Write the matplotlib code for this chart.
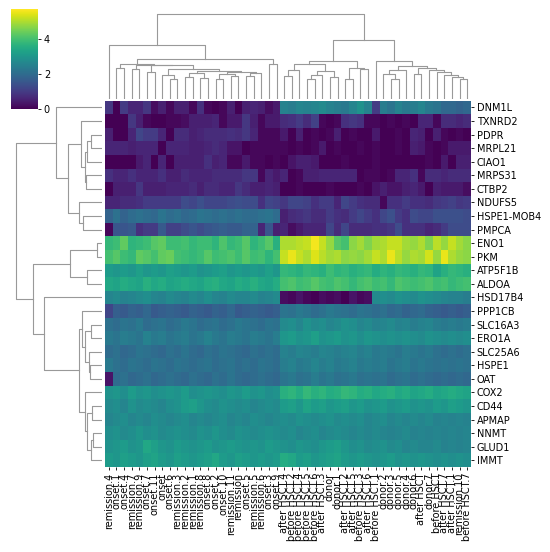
import numpy as np
import matplotlib
matplotlib.use("Agg")
import matplotlib.pyplot as plt

genes = ["DNM1L", "TXNRD2", "PDPR", "MRPL21", "CIAO1", "MRPS31", "CTBP2", "NDUFS5",
         "HSPE1-MOB4", "PMPCA", "ENO1", "PKM", "ATP5F1B", "ALDOA", "HSD17B4", "PPP1CB",
         "SLC16A3", "ERO1A", "SLC25A6", "HSPE1", "OAT", "COX2", "CD44", "APMAP", "NNMT",
         "GLUD1", "IMMT"]

samples = ["remission.4", "onset.1", "onset.4", "remission.7", "remission.9", "onset.7",
           "onset.11", "onset", "onset.6", "remission.3", "remission.2", "remission.1",
           "remission.8", "onset.8", "onset.2", "onset.10", "remission.11", "remission",
           "onset.5", "remission.5", "remission.6", "onset.3", "onset.9",
           "after HSCT.4", "before HSCT.2", "before HSCT.4", "before HSCT.5", "before HSCT.6",
           "after HSCT.3", "donor", "donor.1", "after HSCT.2", "after HSCT.5", "before HSCT.3",
           "after HSCT.6", "before HSCT.1", "donor.2", "donor.3", "donor.5", "donor.4",
           "donor.6", "after HSCT", "donor.7", "before HSCT", "after HSCT.7", "after HSCT.1",
           "remission.10", "before HSCT.7"]

# expression per gene, columns in the order of `samples`
dnm1l = [0.9,0.0,1.0,0.6,0.6,0.9,0.2,0.5,0.1,0.5,0.5,0.1,0.8,0.1,0.0,0.1,0.5,0.0,0.5,0.6,0.5,0.2,0.4,
         2.5,2.4,2.6,2.5,2.6,2.7,2.5,2.4,2.3,2.6,2.9,2.5,1.0,2.4,2.2,2.5,2.3,2.4,2.6,2.3,2.2,1.9,1.9,1.8,1.9]
txnrd2 = [0.0,0.0,0.0,0.9,0.5,0.1,0.0,0.0,0.1,0.1,0.2,0.5,0.5,0.5,0.6,0.1,0.4,0.4,0.9,0.5,0.1,0.4,0.4,
          0.7,0.8,1.0,0.7,1.1,0.1,0.0,0.1,0.8,0.9,0.8,0.1,0.1,0.0,0.1,0.0,0.1,0.0,0.6,0.6,0.1,0.7,0.7,0.6,0.7]
pdpr = [0.5,0.0,0.0,0.6,1.2,1.0,1.0,0.6,0.0,0.7,0.7,0.5,0.6,0.7,0.7,0.7,0.8,0.7,0.9,0.6,0.1,0.1,0.1,
        0.4,0.0,0.5,0.0,0.1,0.0,0.1,0.5,0.0,0.1,0.0,0.0,0.4,0.0,0.0,0.1,0.0,0.6,0.5,0.0,0.5,0.1,0.0,0.1,0.0]
mrpl21 = [0.6,0.6,0.6,0.5,0.6,0.6,0.6,0.0,0.6,0.6,0.6,0.5,0.5,0.6,0.7,0.6,0.3,0.3,0.0,0.1,0.1,0.1,0.1,
          0.1,0.0,0.1,0.0,0.1,0.4,0.0,0.1,0.0,0.0,0.1,0.0,0.1,0.0,0.0,0.1,0.0,0.5,0.4,0.1,0.0,0.1,0.4,0.4,0.4]
ciao1 = [0.0,0.0,0.0,0.0,0.4,0.6,0.0,0.6,0.0,0.5,0.5,0.5,0.5,0.8,0.5,0.6,0.1,0.1,0.4,0.1,0.1,0.0,0.1,
         0.0,0.3,0.5,0.5,0.4,0.0,0.0,0.0,0.1,0.0,0.0,0.0,0.1,0.0,0.0,0.0,0.0,0.0,0.0,0.1,0.0,0.4,0.0,0.5,0.5]
mrps31 = [0.8,0.6,0.6,0.8,0.6,0.6,0.6,0.8,0.5,0.5,0.7,0.6,0.6,0.6,0.7,0.7,0.7,0.7,0.9,0.9,0.1,0.6,0.4,
          0.6,0.0,0.1,0.5,0.5,0.6,0.6,0.6,0.6,0.6,0.0,0.1,0.1,0.0,0.1,0.6,0.6,0.8,0.1,0.7,0.7,0.6,0.7,0.7,0.7]
ctbp2 = [0.0,0.5,0.5,0.5,0.9,0.5,0.5,0.5,0.6,0.6,0.6,0.7,0.5,0.7,0.7,0.6,0.6,0.9,0.7,0.5,0.5,0.6,0.5,
         0.0,0.0,0.1,0.0,0.0,0.0,0.1,0.0,0.0,0.0,0.1,0.0,0.3,0.5,0.3,0.3,0.5,0.6,0.4,0.0,0.5,0.4,0.4,0.4,0.2]
ndufs5 = [0.6,0.6,0.7,0.7,0.8,1.0,1.0,1.0,1.0,1.0,1.3,1.2,1.4,1.2,1.2,1.2,1.3,1.4,1.3,1.3,0.8,1.2,1.1,
          0.9,1.2,1.2,1.1,0.8,1.0,1.0,0.6,1.2,1.0,0.8,0.7,0.7,0.1,0.8,0.8,1.0,0.8,0.8,0.7,0.9,1.0,1.1,0.9,1.0]
hspe1_mob4 = [1.8,2.1,1.8,2.0,2.1,2.0,1.9,2.2,2.0,2.1,1.9,2.0,2.2,2.1,2.0,2.1,2.0,2.1,2.0,2.0,2.1,2.2,2.0,
              0.5,0.7,0.8,0.9,0.7,0.7,1.0,0.8,0.7,1.0,1.2,1.0,0.8,1.2,1.4,1.0,0.8,1.3,1.2,1.2,1.4,1.4,1.4,1.4,1.3]
pmpca = [0.1,1.5,1.5,1.6,0.8,1.0,1.0,1.6,1.1,1.1,1.3,1.5,1.3,1.5,1.6,1.7,1.6,1.6,1.8,1.8,0.6,1.5,0.5,
         0.6,0.2,0.4,0.6,0.6,0.6,1.2,0.7,1.2,0.7,0.7,0.7,0.8,0.8,0.9,1.3,0.8,0.8,0.8,0.6,0.7,1.0,1.3,1.3,1.3]
eno1 = [3.8,3.9,4.3,3.7,3.8,3.9,4.2,4.3,3.9,3.9,4.0,3.8,3.9,3.9,3.7,4.1,3.8,3.9,4.2,3.7,3.9,4.2,3.6,
        5.0,5.0,5.1,5.2,5.6,5.2,4.8,4.2,4.0,4.7,4.9,4.6,4.9,5.0,5.2,5.2,4.9,4.8,5.0,4.6,5.1,4.8,5.2,4.9,4.7]
pkm = [4.0,4.2,3.9,3.8,4.3,4.2,4.0,4.3,4.4,4.0,3.9,3.8,3.9,4.2,3.9,4.0,4.1,3.9,4.2,3.9,4.0,3.7,4.0,
       5.2,5.5,5.2,5.0,5.4,5.1,4.9,5.0,4.7,4.8,4.7,4.9,5.2,5.0,5.5,5.1,4.8,5.0,4.9,5.3,4.8,5.5,5.0,4.8,4.7]
atp5f1b = [3.1,3.0,3.1,3.0,3.2,3.0,3.1,3.0,3.2,3.1,3.0,3.1,2.9,3.0,3.1,3.2,3.0,3.1,3.0,3.1,3.0,3.2,3.0,
           3.8,3.7,3.6,3.8,3.7,3.6,3.9,3.7,3.8,3.6,3.7,3.8,3.5,3.7,3.6,3.8,3.7,3.6,3.8,3.7,3.3,3.6,3.8,3.7,3.6]
aldoa = [3.4,3.3,3.5,3.4,3.3,3.6,3.4,3.5,3.3,3.4,3.5,3.4,3.3,3.5,3.6,3.4,3.3,3.5,3.4,3.6,3.4,3.3,3.5,
         4.0,4.1,3.9,4.0,4.2,4.0,3.9,4.1,4.0,3.8,4.0,4.1,3.9,4.0,3.8,4.1,4.0,3.9,4.0,4.1,3.9,4.0,3.8,3.9,4.0]
hsd17b4 = [2.6,2.7,2.5,2.6,2.7,2.8,2.6,2.5,2.7,2.6,2.5,2.7,2.6,2.8,2.6,2.5,2.7,2.6,2.6,2.7,2.5,2.6,2.7,
           0.2,0.1,0.3,0.1,0.0,0.2,0.1,0.2,0.0,0.3,0.1,0.2,2.7,2.8,2.7,2.9,2.8,2.7,2.9,2.8,2.7,2.6,2.5,2.5,2.4]
ppp1cb = [1.2,1.7,1.6,1.8,1.7,1.9,1.6,1.7,1.8,1.7,1.6,1.8,1.7,1.6,1.8,1.7,1.9,1.6,1.7,1.8,1.7,1.6,1.7,
          2.2,2.1,2.3,2.2,2.0,2.1,2.3,2.2,2.1,2.0,2.2,2.1,2.0,2.1,1.9,2.0,1.8,1.9,2.0,1.8,1.7,1.6,1.7,1.6,1.7]
slc16a3 = [2.1,2.0,2.2,2.1,2.3,2.0,2.1,2.2,2.0,2.1,2.3,2.2,2.0,2.1,2.2,2.0,2.1,2.3,2.2,2.1,2.0,2.2,2.1,
           2.7,2.8,2.6,2.9,2.7,2.8,2.6,2.7,2.9,2.8,2.6,2.7,2.5,2.6,2.7,2.5,2.6,2.4,2.5,2.6,2.4,2.3,2.4,2.3,2.4]
ero1a = [2.3,2.2,2.4,2.3,2.2,2.5,2.3,2.4,2.2,2.3,2.4,2.2,2.3,2.5,2.3,2.2,2.4,2.3,2.2,2.4,2.3,2.2,2.4,
         3.0,3.1,2.9,3.0,3.2,2.9,3.0,3.1,2.9,3.0,2.8,3.0,2.9,2.8,2.9,2.8,2.9,2.8,2.7,2.9,2.8,2.7,2.8,2.7,2.8]
slc25a6 = [2.0,2.1,1.9,2.0,2.2,2.1,2.0,1.9,2.1,2.0,2.2,2.0,1.9,2.1,2.0,2.2,2.1,2.0,1.9,2.1,2.0,2.1,2.0,
           2.5,2.4,2.6,2.5,2.4,2.6,2.5,2.4,2.5,2.6,2.4,2.5,2.3,2.4,2.3,2.2,2.4,2.3,2.2,2.3,2.1,2.0,2.1,2.0,2.1]
hspe1 = [2.3,2.1,2.0,2.2,2.1,2.0,2.2,2.1,2.0,2.2,2.1,2.0,2.1,2.2,2.0,2.1,2.2,2.0,2.1,2.0,2.2,2.1,2.0,
         2.4,2.5,2.3,2.4,2.6,2.4,2.5,2.3,2.4,2.5,2.3,2.4,2.3,2.4,2.2,2.3,2.4,2.2,2.3,2.2,2.1,2.2,2.1,2.2,2.1]
oat = [0.3,2.0,2.1,1.9,2.0,2.1,1.9,2.0,2.1,2.0,1.9,2.1,2.0,1.9,2.1,2.0,2.2,2.0,1.9,2.0,2.1,2.0,1.9,
       2.2,2.3,2.1,2.2,2.4,2.2,2.3,2.1,2.2,2.3,2.1,2.2,2.1,2.2,2.0,2.1,2.2,2.0,2.1,2.0,1.9,2.0,1.9,2.0,1.9]
cox2 = [2.9,3.0,2.8,3.1,2.9,3.0,2.8,2.9,3.0,2.9,3.1,2.8,2.9,3.0,2.9,2.8,3.0,2.9,3.1,2.9,3.0,2.8,2.9,
        3.6,3.7,3.5,3.8,3.6,3.7,3.5,3.6,3.8,3.7,3.5,3.6,3.4,3.5,3.6,3.4,3.5,3.3,3.4,3.5,3.3,3.4,3.5,3.4,3.3]
cd44 = [2.7,2.8,2.6,2.9,2.7,2.8,2.7,2.6,2.8,2.9,3.1,3.2,3.0,2.8,2.7,2.9,2.8,2.7,2.8,2.6,2.7,2.8,2.7,
        3.1,3.2,3.0,3.3,3.1,3.2,3.0,3.1,3.2,3.0,3.1,2.9,3.0,3.1,2.9,3.0,3.1,2.9,3.0,2.9,3.1,3.0,3.2,3.1,3.0]
apmap = [2.6,2.7,2.8,2.6,2.7,2.6,2.8,2.7,2.6,2.7,2.8,2.6,2.7,2.6,2.7,2.8,2.6,2.7,2.6,2.8,2.7,2.6,2.7,
         2.8,2.7,2.9,2.8,2.7,2.8,2.9,2.7,2.8,2.7,2.8,2.6,2.7,2.8,2.6,2.7,2.6,2.7,2.6,2.7,2.5,2.6,2.5,2.6,2.5]
nnmt = [2.8,2.9,2.7,2.8,3.0,2.8,2.9,2.7,2.8,2.9,2.8,2.7,2.9,2.8,3.0,2.8,2.7,2.9,2.8,2.7,2.8,2.9,2.8,
        2.7,2.8,2.6,2.7,2.8,2.6,2.7,2.8,2.7,2.6,2.7,2.6,2.7,2.6,2.5,2.6,2.7,2.5,2.6,2.5,2.6,2.5,2.6,2.5,2.6]
glud1 = [2.9,3.0,3.1,2.9,3.0,3.4,3.2,3.0,2.9,3.1,3.0,2.9,3.0,3.1,2.9,3.0,3.1,3.0,2.9,3.0,2.9,3.1,3.0,
         2.9,2.8,3.0,2.9,2.8,3.0,3.1,3.2,3.0,2.8,2.9,2.7,2.8,2.9,2.7,2.8,2.6,2.7,2.6,2.6,2.7,2.5,2.6,2.5,2.6]
immt = [3.1,3.0,3.2,3.1,3.0,3.2,3.3,3.1,3.0,3.2,3.1,3.0,3.1,3.2,3.4,3.1,3.0,3.2,3.1,3.0,3.1,3.0,3.1,
        3.5,3.4,3.1,3.2,3.0,3.1,3.2,3.3,3.1,3.0,3.1,3.0,2.9,3.0,3.1,2.9,3.0,2.9,3.0,2.9,2.8,2.9,2.8,2.9,2.8]

# dendrogram merges (child a, child b, height); leaves are in display order,
# new clusters get ids n, n+1, ... like a scipy linkage
row_merges = [
    (2, 3, 11), (27, 4, 14.4), (5, 6, 15.7), (28, 29, 16.7), (1, 30, 20.7),
    (8, 9, 19), (7, 32, 22.4), (31, 33, 33.4), (0, 34, 45.7),
    (10, 11, 5), (12, 13, 14.4), (36, 37, 31.7),
    (16, 17, 11), (19, 20, 11.5), (18, 40, 13), (39, 41, 17), (15, 42, 19.5),
    (22, 23, 10), (24, 25, 9), (45, 26, 11), (44, 46, 15), (21, 47, 17),
    (43, 48, 23), (14, 49, 57.4), (38, 50, 68.4), (35, 51, 86),
]
col_merges = [
    (1, 2, 31.7), (3, 4, 30.5), (5, 6, 27.3), (8, 9, 20), (7, 51, 24),
    (10, 11, 22), (12, 13, 21), (53, 54, 26), (14, 15, 20), (16, 17, 23),
    (56, 57, 25), (18, 19, 23.5), (59, 20, 26), (58, 60, 27.5), (55, 61, 28.5),
    (52, 62, 30), (50, 63, 34), (49, 64, 34.7), (48, 65, 35.2), (21, 22, 35),
    (66, 67, 40.7), (0, 68, 55),
    (23, 24, 23), (70, 25, 29), (26, 27, 20), (72, 28, 24), (29, 30, 22),
    (73, 74, 28.5), (71, 75, 35), (31, 32, 20), (33, 34, 30), (77, 78, 31.7),
    (76, 79, 38.3), (37, 38, 20), (36, 81, 25), (82, 39, 29.3), (46, 47, 20.5),
    (45, 84, 22.5), (44, 85, 24.5), (43, 86, 27), (42, 87, 29), (40, 41, 25),
    (89, 88, 31), (83, 90, 33.3), (35, 91, 38.3), (80, 92, 60), (69, 93, 86),
]

data = np.array([dnm1l, txnrd2, pdpr, mrpl21, ciao1, mrps31, ctbp2, ndufs5, hspe1_mob4,
                 pmpca, eno1, pkm, atp5f1b, aldoa, hsd17b4, ppp1cb, slc16a3, ero1a,
                 slc25a6, hspe1, oat, cox2, cd44, apmap, nnmt, glud1, immt])


def draw_tree(ax, merges, n, horizontal):
    pos = {i: i + 0.5 for i in range(n)}
    ht = {i: 0.0 for i in range(n)}
    for k, (a, b, h) in enumerate(merges):
        p = [pos[a], pos[a], pos[b], pos[b]]
        q = [ht[a], h, h, ht[b]]
        if horizontal:
            ax.plot(q, p, color="0.6", lw=0.8)
        else:
            ax.plot(p, q, color="0.6", lw=0.8)
        pos[n + k] = (pos[a] + pos[b]) / 2
        ht[n + k] = h
    return max(ht.values())


W, H = 550, 552
fig = plt.figure(figsize=(W / 100, H / 100), dpi=100)

def box(x0, y0, x1, y1):
    # pixel box (top-left origin) -> figure fraction
    return [x0 / W, 1 - y1 / H, (x1 - x0) / W, (y1 - y0) / H]

ax_heat = fig.add_axes(box(105, 100.7, 471, 467))
ax_row = fig.add_axes(box(11.4, 100.7, 101.7, 467))
ax_col = fig.add_axes(box(105, 9.7, 471, 99))
ax_cbar = fig.add_axes(box(10.7, 9.3, 38.3, 108.7))

mesh = ax_heat.pcolormesh(data, cmap="viridis", vmin=0, vmax=5.7)
ax_heat.set_xlim(0, len(samples))
ax_heat.set_ylim(len(genes), 0)
ax_heat.set_xticks(np.arange(len(samples)) + 0.5)
ax_heat.set_xticklabels(samples, rotation=90, fontsize=7)
ax_heat.set_yticks(np.arange(len(genes)) + 0.5)
ax_heat.set_yticklabels(genes, fontsize=7)
ax_heat.yaxis.tick_right()
ax_heat.tick_params(length=2.5, width=0.6, pad=1.5)
for s in ax_heat.spines.values():
    s.set_visible(False)

top = draw_tree(ax_row, row_merges, len(genes), True)
ax_row.set_xlim(top * 1.05, 0)
ax_row.set_ylim(len(genes), 0)
ax_row.axis("off")

top = draw_tree(ax_col, col_merges, len(samples), False)
ax_col.set_xlim(0, len(samples))
ax_col.set_ylim(0, top * 1.05)
ax_col.axis("off")

cb = fig.colorbar(mesh, cax=ax_cbar, ticks=[0, 2, 4])
cb.outline.set_linewidth(0)
cb.ax.tick_params(labelsize=7, length=2.5, width=0.6, pad=1.5)

fig.savefig("out.png", dpi=100)
